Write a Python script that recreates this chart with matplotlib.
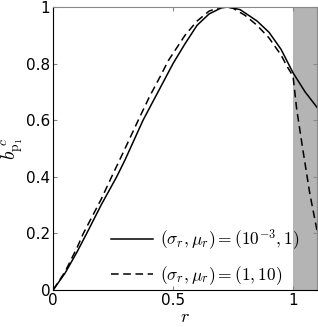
import numpy as np
import matplotlib.pyplot as plt
from matplotlib.ticker import FormatStrFormatter

plt.rcParams['mathtext.fontset'] = 'cm'
plt.rcParams['font.family'] = 'DejaVu Sans'

# solid curve, (sigma_r, mu_r) = (1e-3, 1)
r_solid = [0, 0.05, 0.1, 0.14, 0.2, 0.265, 0.3, 0.375, 0.4, 0.45, 0.5, 0.55,
           0.6, 0.65, 0.7, 0.73, 0.78, 0.85, 0.9, 0.95, 1.0, 1.05, 1.1]
b_solid = [0, 0.06, 0.135, 0.2, 0.3, 0.4, 0.46, 0.6, 0.64, 0.72, 0.80, 0.87,
           0.935, 0.975, 0.996, 1.0, 0.99, 0.95, 0.91, 0.85, 0.767, 0.70, 0.645]

# dashed curve, (sigma_r, mu_r) = (1, 10)
r_dash = [0, 0.05, 0.1, 0.126, 0.2, 0.244, 0.3, 0.355, 0.4, 0.45, 0.48, 0.55,
          0.6, 0.65, 0.7, 0.72, 0.75, 0.8, 0.85, 0.9, 0.95, 0.975, 1.0, 1.015,
          1.04, 1.07, 1.1]
b_dash = [0, 0.065, 0.15, 0.2, 0.32, 0.4, 0.5, 0.6, 0.68, 0.76, 0.81, 0.9,
          0.95, 0.985, 1.0, 1.0, 0.995, 0.97, 0.935, 0.89, 0.83, 0.79, 0.755,
          0.64, 0.5, 0.34, 0.21]

fig = plt.figure(figsize=(3.18, 3.27), dpi=100)
ax = fig.add_axes([0.167, 0.113, 0.83, 0.866])

ax.axvspan(1, 1.1, color='#b4b4b4', lw=0, zorder=0)
ax.plot(r_solid, b_solid, 'k-', lw=1.1, label=r'$(\sigma_r,\mu_r)=(10^{-3},1)$')
ax.plot(r_dash, b_dash, 'k--', lw=1.1, dashes=(5, 3),
        label=r'$(\sigma_r,\mu_r)=(1,10)$')

ax.set_xlim(0, 1.1)
ax.set_ylim(0, 1)
ax.set_xticks([0, 0.5, 1])
ax.set_yticks([0, 0.2, 0.4, 0.6, 0.8, 1])
ax.xaxis.set_major_formatter(FormatStrFormatter('%g'))
ax.yaxis.set_major_formatter(FormatStrFormatter('%g'))
ax.tick_params(direction='in', top=True, right=True, labelsize=11, length=3,
               pad=2, color='#888888')
for s in ax.spines.values():
    s.set_color('#888888')
ax.spines['left'].set_color('k')
ax.spines['bottom'].set_color('k')

ax.set_xlabel(r'$r$', fontsize=13, labelpad=0)
ax.set_ylabel(r'$b_{\mathrm{p}_1}^{\ c}$', fontsize=14, labelpad=0)

ax.legend(loc='lower right', frameon=False, fontsize=12.5, handlelength=2.4,
          handletextpad=0.4, borderaxespad=0.1, labelspacing=0.7,
          bbox_to_anchor=(0.965, -0.02))

fig.savefig('out.png', dpi=100)
